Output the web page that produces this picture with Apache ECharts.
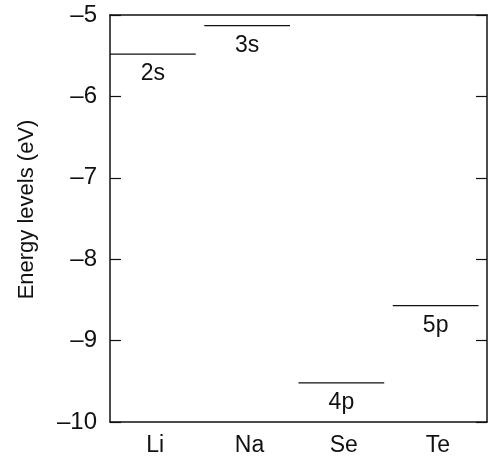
<!DOCTYPE html>
<html>
<head>
<meta charset="utf-8">
<script src="https://cdn.jsdelivr.net/npm/echarts@6/dist/echarts.min.js"></script>
<style>
  html, body { margin: 0; padding: 0; background: #fff; }
  #chart { width: 488px; height: 462px; }
</style>
</head>
<body>
<div id="chart"></div>
<script>
const elements = ['Li', 'Na', 'Se', 'Te'];
const orbitals = ['2s', '3s', '4p', '5p'];
const energies = [-5.48, -5.13, -9.52, -8.57];

const font = "'Liberation Sans', Arial, Helvetica, sans-serif";
const ink = '#111';

document.addEventListener('DOMContentLoaded', () => {
  const chart = echarts.init(document.getElementById('chart'));

  const levelData = energies.map((e, i) => [i + 1, e, orbitals[i]]);

  const option = {
    animation: false,
    grid: { left: 110, right: 1, top: 15, bottom: 40 },
    xAxis: [
      {
        type: 'value',
        min: 0.52,
        max: 4.52,
        splitLine: { show: false },
        axisLine: { show: true, onZero: false, lineStyle: { color: ink, width: 1.5 } },
        axisTick: { show: false },
        axisLabel: {
          customValues: [1, 2, 3, 4],
          formatter: v => elements[Math.round(v) - 1] || '',
          color: ink, fontSize: 23, fontFamily: font, margin: 12
        }
      },
      {
        type: 'value',
        position: 'top',
        min: 0.52,
        max: 4.52,
        splitLine: { show: false },
        axisLine: { show: true, onZero: false, lineStyle: { color: ink, width: 1.5 } },
        axisTick: { show: false },
        axisLabel: { show: false }
      }
    ],
    yAxis: [
      {
        type: 'value',
        min: -10,
        max: -5,
        interval: 1,
        name: 'Energy levels (eV)',
        nameLocation: 'middle',
        nameGap: 72,
        nameTextStyle: { color: ink, fontSize: 22, fontFamily: font, padding: [0, 0, 0, 18] },
        splitLine: { show: false },
        axisLine: { show: true, onZero: false, lineStyle: { color: ink, width: 1.5 } },
        axisTick: { show: true, inside: true, length: 11, lineStyle: { color: ink, width: 1.2 } },
        axisLabel: {
          color: ink, fontSize: 24, fontFamily: font, margin: 13,
          formatter: v => String(v).replace('-', '\u2013')
        }
      },
      {
        type: 'value',
        position: 'right',
        min: -10,
        max: -5,
        interval: 1,
        splitLine: { show: false },
        axisLine: { show: true, onZero: false, lineStyle: { color: ink, width: 1.5 } },
        axisTick: { show: true, inside: true, length: 11, lineStyle: { color: ink, width: 1.2 } },
        axisLabel: { show: false }
      }
    ],
    series: [
      {
        type: 'custom',
        xAxisIndex: 0,
        yAxisIndex: 0,
        data: levelData,
        renderItem: function (params, api) {
          const x = api.value(0);
          const y = api.value(1);
          const p1 = api.coord([x - 0.48, y]);
          const p2 = api.coord([x + 0.43, y]);
          const cx = (p1[0] + p2[0]) / 2;
          return {
            type: 'group',
            children: [
              {
                type: 'line',
                shape: { x1: p1[0], y1: p1[1], x2: p2[0], y2: p2[1] },
                style: { stroke: ink, lineWidth: 1.3 }
              },
              {
                type: 'text',
                style: {
                  text: orbitals[params.dataIndex],
                  x: cx, y: p1[1] + 20,
                  align: 'center', verticalAlign: 'middle',
                  fill: ink, fontSize: 23, fontFamily: font
                }
              }
            ]
          };
        }
      }
    ]
  };

  chart.setOption(option);
});
</script>
</body>
</html>
